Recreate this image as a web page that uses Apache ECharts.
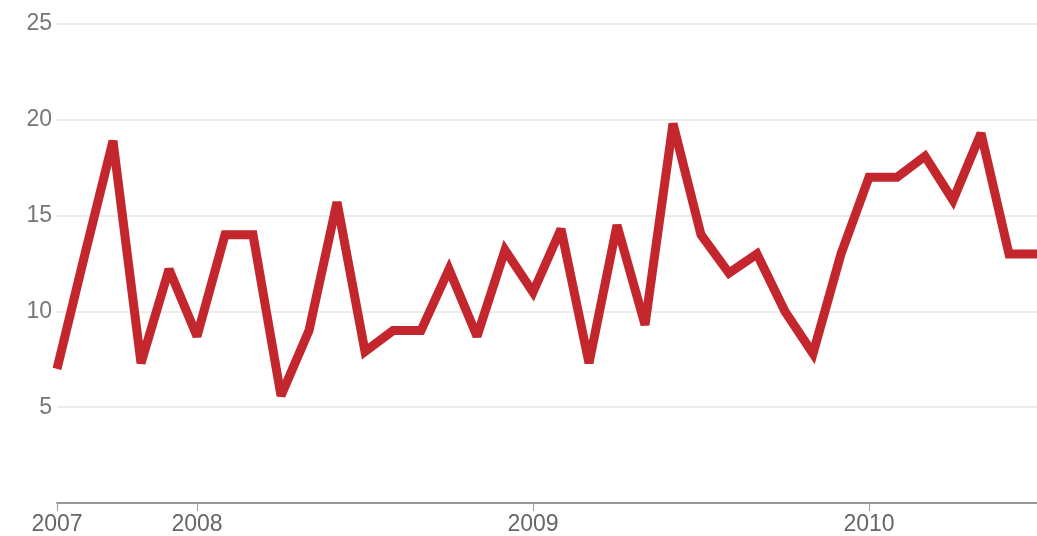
<!DOCTYPE html>
<html>
<head>
<meta charset="utf-8">
<script src="https://cdn.jsdelivr.net/npm/echarts@6/dist/echarts.min.js"></script>
<style>
  html, body { margin: 0; padding: 0; background: #fff; }
  #chart { width: 1037px; height: 536px; }
</style>
</head>
<body>
<div id="chart"></div>
<script>
// monthly points, Aug 2007 .. Jul 2010
var months = [
  '2007-08','2007-09','2007-10','2007-11','2007-12',
  '2008-01','2008-02','2008-03','2008-04','2008-05','2008-06','2008-07','2008-08','2008-09','2008-10','2008-11','2008-12',
  '2009-01','2009-02','2009-03','2009-04','2009-05','2009-06','2009-07','2009-08','2009-09','2009-10','2009-11','2009-12',
  '2010-01','2010-02','2010-03','2010-04','2010-05','2010-06','2010-07'
];
var values = [
  7, 13, 18.9, 7.3, 12.2,
  8.7, 14, 14, 5.6, 9, 15.7, 7.9, 9, 9, 12.2, 8.7, 13.2,
  11, 14.3, 7.3, 14.5, 9.3, 19.8, 14, 12, 13, 10, 7.8, 13,
  17, 17, 18.1, 15.8, 19.3, 13, 13
];
var yTicks = [0, 5, 10, 15, 20, 25];

// label shown at start of axis and every January
function isYearMark(i) {
  return i === 0 || months[i].slice(5) === '01';
}

var chart = echarts.init(document.getElementById('chart'));

chart.setOption({
  animation: false,
  backgroundColor: '#ffffff',
  grid: { left: 57, right: 0, top: 24, bottom: 31 },
  xAxis: {
    type: 'category',
    data: months,
    boundaryGap: false,
    axisLine: { lineStyle: { color: '#999', width: 2 } },
    axisTick: {
      interval: function (i) { return isYearMark(i); },
      length: 8,
      lineStyle: { color: '#999', width: 1 }
    },
    axisLabel: {
      interval: function (i) { return isYearMark(i); },
      formatter: function (v) { return v.slice(0, 4); },
      color: '#666',
      fontFamily: 'Liberation Sans',
      fontSize: 23,
      margin: 10
    },
    splitLine: { show: false }
  },
  yAxis: {
    type: 'value',
    min: yTicks[0],
    max: yTicks[yTicks.length - 1],
    interval: 5,
    axisLine: { show: false },
    axisTick: { show: false },
    axisLabel: {
      formatter: function (v) { return v === 0 ? '' : String(v); },
      color: '#777',
      fontFamily: 'Liberation Sans',
      fontSize: 23,
      margin: 5
    },
    splitLine: { lineStyle: { color: '#ececec', width: 2 } }
  },
  series: [{
    type: 'line',
    data: values,
    showSymbol: false,
    symbol: 'none',
    lineStyle: { color: '#c3272d', width: 9, join: 'miter', miterLimit: 2.5 }
  }]
});
</script>
</body>
</html>
